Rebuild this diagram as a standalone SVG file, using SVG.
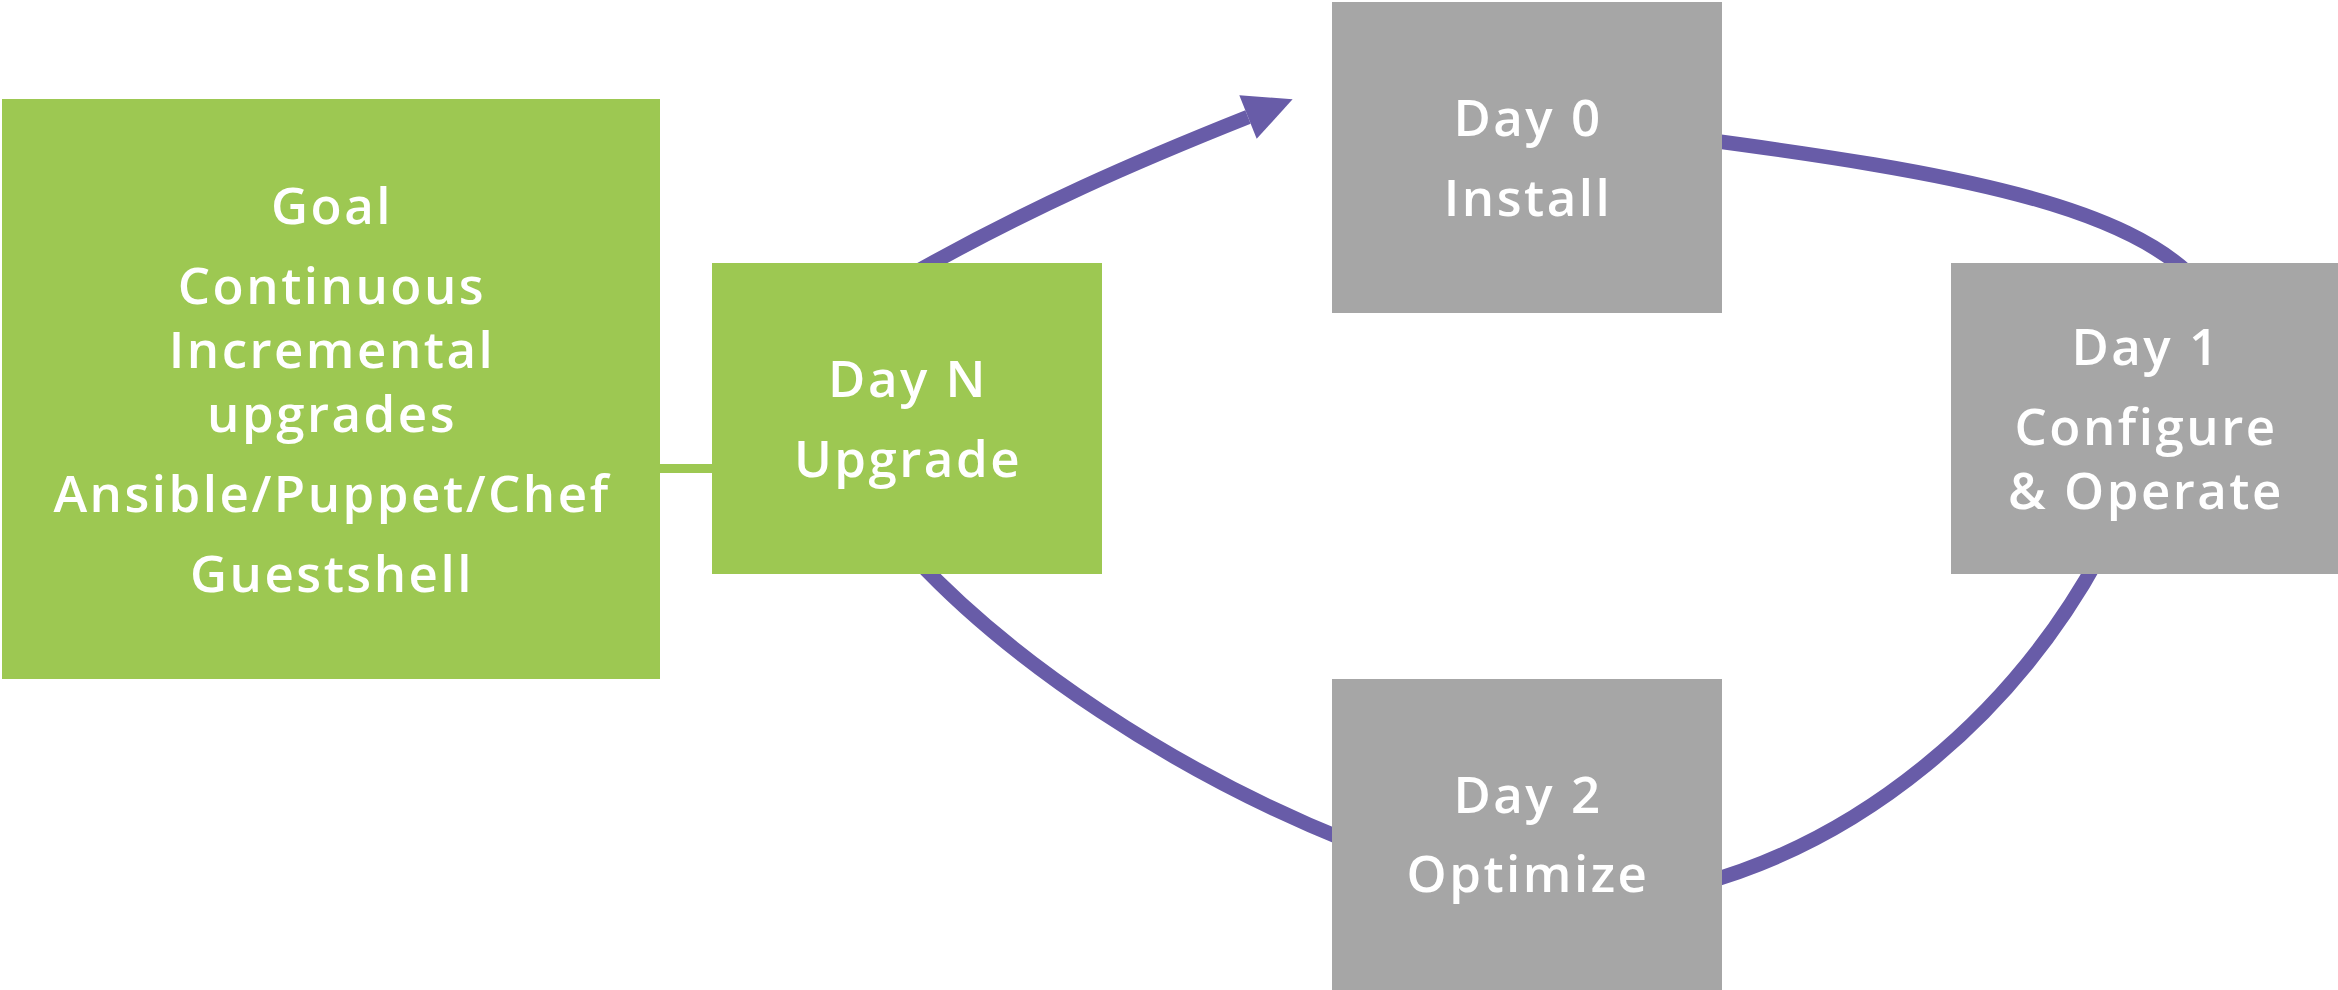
<svg xmlns="http://www.w3.org/2000/svg" width="2338" height="990" viewBox="0 0 2338 990">
<defs>
<style>
.g{fill:#9dc852}
.s{fill:#a6a6a6}
.t{fill:#ffffff;font-family:"Open Sans","Noto Sans","Liberation Sans",sans-serif;font-size:51px;font-weight:600;letter-spacing:2.5px;text-anchor:middle}
.c{fill:none;stroke:#685ca8;stroke-width:14.5}
</style>
<marker id="ah" markerUnits="userSpaceOnUse" markerWidth="48" markerHeight="48" viewBox="0 -24 48 48" refX="0" refY="0" orient="auto" overflow="visible">
<path d="M0,-23.5 L48,0 L0,23.5 Z" fill="#685ca8"/>
</marker>
</defs>
<rect width="2338" height="990" fill="#ffffff"/>
<g id="connectors">
<path class="c" d="M900,281 C1030,207 1140,160 1248,117" marker-end="url(#ah)"/>
<path class="c" d="M1700,139 C1950,172 2130,205 2200,285"/>
<path class="c" d="M2100,555 C2010,720 1860,840 1700,884"/>
<path class="c" d="M915,558 C1010,660 1170,770 1350,842"/>
<rect x="655" y="464" width="62" height="9" class="g"/>
</g>
<g id="goal">
<rect x="2" y="99" width="658" height="580" class="g"/>
<text class="t" x="332" y="224">Goal</text>
<text class="t" x="332" y="304">Continuous</text>
<text class="t" x="332" y="368">Incremental</text>
<text class="t" x="332" y="432">upgrades</text>
<text class="t" x="332" y="512">Ansible/Puppet/Chef</text>
<text class="t" x="332" y="592">Guestshell</text>
</g>
<g id="dayN">
<rect x="712" y="263" width="390" height="311" class="g"/>
<text class="t" x="908" y="397">Day N</text>
<text class="t" x="908" y="477">Upgrade</text>
</g>
<g id="day0">
<rect x="1332" y="2" width="390" height="311" class="s"/>
<text class="t" x="1528" y="136">Day 0</text>
<text class="t" x="1528" y="216">Install</text>
</g>
<g id="day1">
<rect x="1951" y="263" width="387" height="311" class="s"/>
<text class="t" x="2146" y="365">Day 1</text>
<text class="t" x="2146" y="445">Configure</text>
<text class="t" x="2146" y="509">&amp; Operate</text>
</g>
<g id="day2">
<rect x="1332" y="679" width="390" height="311" class="s"/>
<text class="t" x="1528" y="813">Day 2</text>
<text class="t" x="1528" y="892">Optimize</text>
</g>
</svg>
